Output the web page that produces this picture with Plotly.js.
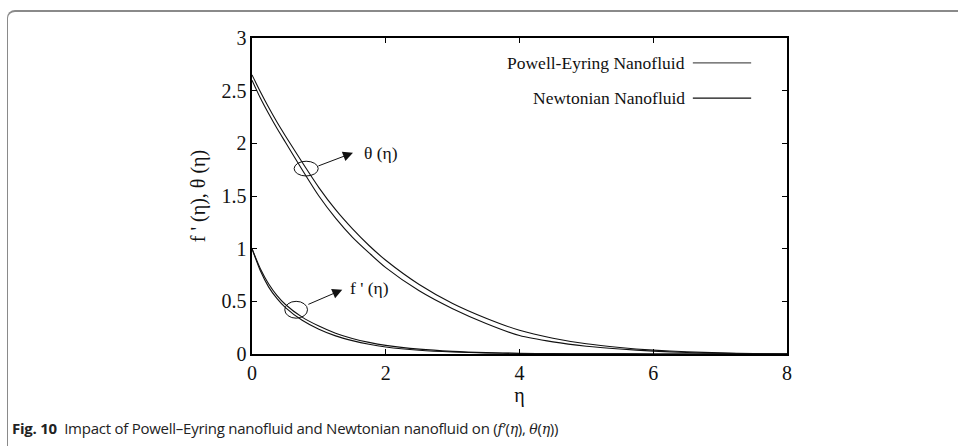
<!DOCTYPE html>
<html>
<head>
<meta charset="utf-8">
<script src="https://cdn.plot.ly/plotly-3.0.1.min.js"></script>
<style>
  html, body { margin: 0; padding: 0; background: #fff; width: 958px; height: 446px; overflow: hidden; }
  #frame { position: absolute; left: 7px; top: 10px; width: 1000px; height: 500px;
           border-left: 1px solid #8a8a8a; border-top: 2px solid #8a8a8a; border-top-left-radius: 8px; }
  #chart { position: absolute; left: 0; top: 0; width: 958px; height: 446px; }
  #caption { position: absolute; left: 12px; top: 418px; font-family: "Open Sans", "Noto Sans", sans-serif;
             font-size: 15px; color: #222; white-space: nowrap; letter-spacing: -0.25px; }
  #caption b { font-weight: 700; }
  #caption i { font-family: "DejaVu Serif", "Liberation Serif", serif; font-style: italic; font-size: 14px; }
</style>
</head>
<body>
<div id="frame"></div>
<div id="chart"></div>
<div id="caption"><b>Fig. 10</b>&nbsp; Impact of Powell–Eyring nanofluid and Newtonian nanofluid on (<i>f</i>′(<i>η</i>), <i>θ</i>(<i>η</i>))</div>
<script>
// η grid
const eta = [0, 0.125, 0.25, 0.375, 0.5, 0.75, 1.0, 1.25, 1.5, 1.75, 2.0, 2.5, 3.0, 3.5, 4.0, 4.5, 5.0, 5.5, 6.0, 6.5, 7.0, 7.5, 8.0];

// θ(η) curves
const thetaPowellEyring = [2.65, 2.49, 2.34, 2.20, 2.07, 1.82, 1.58, 1.37, 1.19, 1.03, 0.89, 0.66, 0.48, 0.34, 0.225, 0.15, 0.097, 0.062, 0.037, 0.021, 0.011, 0.004, 0.0];
const thetaNewtonian    = [2.60, 2.43, 2.28, 2.14, 2.01, 1.75, 1.50, 1.29, 1.11, 0.96, 0.82, 0.60, 0.43, 0.29, 0.175, 0.115, 0.074, 0.047, 0.027, 0.014, 0.007, 0.002, 0.0];

// f'(η) curves
const fpPowellEyring = [1.0, 0.81, 0.665, 0.555, 0.47, 0.35, 0.265, 0.197, 0.147, 0.11, 0.082, 0.046, 0.025, 0.013, 0.007, 0.004, 0.002, 0.001, 0.0006, 0.0003, 0.0001, 0.0, 0.0];
const fpNewtonian    = [1.0, 0.79, 0.635, 0.525, 0.44, 0.32, 0.235, 0.172, 0.127, 0.092, 0.067, 0.036, 0.019, 0.010, 0.005, 0.003, 0.0015, 0.0008, 0.0004, 0.0002, 0.0001, 0.0, 0.0];

const legendLabels = ["Powell-Eyring Nanofluid", "Newtonian Nanofluid"];
const xTicks = [0, 2, 4, 6, 8];
const yTicks = [0, 0.5, 1, 1.5, 2, 2.5, 3];
const yTickText = ["0", "0.5", "1", "1.5", "2", "2.5", "3"];

const serif = "Liberation Serif, Times New Roman, serif";
const lineStyle = {color: "#111", width: 1.1, shape: "spline", smoothing: 0.7};

const traces = [
  {x: eta, y: thetaPowellEyring, mode: "lines", line: lineStyle, name: legendLabels[0] + " θ", showlegend: false},
  {x: eta, y: thetaNewtonian, mode: "lines", line: lineStyle, name: legendLabels[1] + " θ", showlegend: false},
  {x: eta, y: fpPowellEyring, mode: "lines", line: lineStyle, name: legendLabels[0] + " f'", showlegend: false},
  {x: eta, y: fpNewtonian, mode: "lines", line: lineStyle, name: legendLabels[1] + " f'", showlegend: false}
];

const axisCommon = {
  showgrid: false, zeroline: false, showline: true, linecolor: "#000", linewidth: 1.6,
  mirror: "ticks", ticks: "inside", ticklen: 5, tickwidth: 1, tickcolor: "#000",
  tickfont: {family: serif, size: 20, color: "#111"}
};

const layout = {
  width: 958, height: 446,
  margin: {l: 252, r: 171, t: 38, b: 92},
  paper_bgcolor: "rgba(0,0,0,0)", plot_bgcolor: "rgba(0,0,0,0)",
  showlegend: false,
  xaxis: Object.assign({}, axisCommon, {
    range: [0, 8], tickvals: xTicks, ticktext: xTicks.map(String),
    title: {text: "η", font: {family: serif, size: 20, color: "#111"}, standoff: 3}
  }),
  yaxis: Object.assign({}, axisCommon, {
    range: [0, 3], tickvals: yTicks, ticktext: yTickText,
    title: {text: "f ' (η), θ (η)", font: {family: serif, size: 20, color: "#111"}, standoff: 10}
  }),
  shapes: [
    // ellipses marking the curve groups
    {type: "circle", xref: "x", yref: "y", x0: 0.63, x1: 0.99, y0: 1.69, y1: 1.83, line: {color: "#111", width: 1}},
    {type: "circle", xref: "x", yref: "y", x0: 0.49, x1: 0.83, y0: 0.34, y1: 0.50, line: {color: "#111", width: 1}},
    // legend line samples
    {type: "line", xref: "paper", yref: "paper", x0: 0.824, x1: 0.933, y0: 0.921, y1: 0.921, line: {color: "#555", width: 1.2}},
    {type: "line", xref: "paper", yref: "paper", x0: 0.824, x1: 0.933, y0: 0.81, y1: 0.81, line: {color: "#111", width: 1.2}}
  ],
  annotations: [
    {xref: "paper", yref: "paper", x: 0.813, y: 0.921, xanchor: "right", yanchor: "middle", showarrow: false,
     text: legendLabels[0], font: {family: serif, size: 17.5, color: "#111"}},
    {xref: "paper", yref: "paper", x: 0.813, y: 0.81, xanchor: "right", yanchor: "middle", showarrow: false,
     text: legendLabels[1], font: {family: serif, size: 17.5, color: "#111"}},
    // arrows
    {xref: "x", yref: "y", axref: "x", ayref: "y", x: 1.51, y: 1.91, ax: 0.97, ay: 1.78, text: "",
     showarrow: true, arrowhead: 2, arrowsize: 2, arrowwidth: 1, arrowcolor: "#111"},
    {xref: "x", yref: "y", axref: "x", ayref: "y", x: 1.35, y: 0.61, ax: 0.82, ay: 0.465, text: "",
     showarrow: true, arrowhead: 2, arrowsize: 2, arrowwidth: 1, arrowcolor: "#111"},
    // labels
    {xref: "x", yref: "y", x: 1.64, y: 1.91, xanchor: "left", yanchor: "middle", showarrow: false,
     text: "θ (η)", font: {family: serif, size: 17.5, color: "#111"}},
    {xref: "x", yref: "y", x: 1.44, y: 0.63, xanchor: "left", yanchor: "middle", showarrow: false,
     text: "f ' (η)", font: {family: serif, size: 17.5, color: "#111"}}
  ]
};

Plotly.newPlot("chart", traces, layout, {displayModeBar: false, staticPlot: true});
</script>
</body>
</html>
